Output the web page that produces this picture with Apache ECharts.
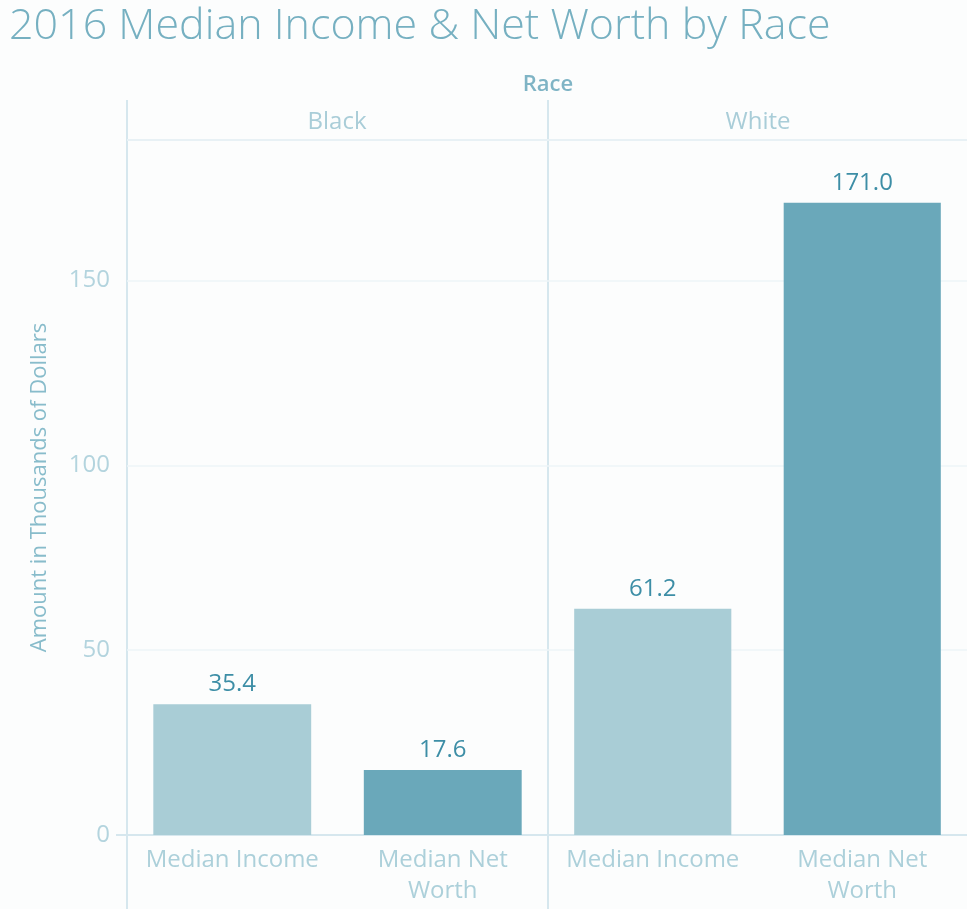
<!DOCTYPE html>
<html>
<head>
<meta charset="utf-8">
<title>2016 Median Income & Net Worth by Race</title>
<script src="https://cdn.jsdelivr.net/npm/echarts@6/dist/echarts.min.js"></script>
<style>
  html, body { margin: 0; padding: 0; background: #fcfdfd; }
  #chart { width: 967px; height: 909px; }
</style>
</head>
<body>
<div id="chart"></div>
<script>
// data
const races = ['Black', 'White'];
const measures = ['Median Income', 'Median Net Worth'];
const blackValues = [35.4, 17.6];
const whiteValues = [61.2, 171.0];
const yTicks = [0, 50, 100, 150];

const barColors = ['#a9cdd6', '#6aa8ba'];
const lineColor = '#d6e7ee';
const font = 'Open Sans';

function barData(values) {
    return values.map(function (v, i) {
        return { value: v, itemStyle: { color: barColors[i] } };
    });
}

function xAxisFor(idx) {
    return {
        type: 'category',
        gridIndex: idx,
        data: measures,
        axisLine: { show: true, lineStyle: { color: lineColor, width: 2 } },
        axisTick: { show: false },
        axisLabel: {
            interval: 0,
            color: '#acd0da',
            fontSize: 24,
            fontFamily: font,
            margin: 10,
            lineHeight: 31,
            formatter: function (v) { return v.replace('Net Worth', 'Net\nWorth'); }
        }
    };
}

function yAxisFor(idx) {
    return {
        type: 'value',
        gridIndex: idx,
        min: 0,
        max: 188,
        interval: 50,
        name: idx === 0 ? 'Amount in Thousands of Dollars' : '',
        nameLocation: 'middle',
        nameGap: 76,
        nameTextStyle: { color: '#88bccb', fontSize: 22, fontFamily: font },
        axisLine: { show: false },
        axisTick: { show: false },
        axisLabel: {
            show: idx === 0,
            color: '#b3d4de',
            fontSize: 24,
            fontFamily: font,
            margin: 17,
            showMaxLabel: false,
            formatter: function (v) { return yTicks.indexOf(v) >= 0 ? String(v) : ''; }
        },
        splitLine: { show: true, lineStyle: { color: '#eef4f7', width: 1.5 } }
    };
}

function seriesFor(idx, values) {
    return {
        type: 'bar',
        xAxisIndex: idx,
        yAxisIndex: idx,
        barWidth: '75%',
        data: barData(values),
        label: {
            show: true,
            position: 'top',
            distance: 8,
            color: '#3d8ea6',
            fontSize: 24,
            fontFamily: font,
            formatter: function (p) { return p.value.toFixed(1); }
        }
    };
}

const chart = echarts.init(document.getElementById('chart'));
chart.setOption({
    backgroundColor: '#fcfdfd',
    animation: false,
    title: {
        text: '2016 Median Income & Net Worth by Race',
        left: 4,
        top: 0,
        textStyle: { color: '#76b0c1', fontSize: 43, fontWeight: 300, fontFamily: font }
    },
    grid: [
        { left: 127, top: 140, width: 421, bottom: 74 },
        { left: 548, top: 140, right: 0, bottom: 74 }
    ],
    xAxis: [xAxisFor(0), xAxisFor(1)],
    yAxis: [yAxisFor(0), yAxisFor(1)],
    series: [seriesFor(0, blackValues), seriesFor(1, whiteValues)],
    graphic: [
        // facet frame
        { type: 'line', shape: { x1: 127, y1: 100, x2: 127, y2: 909 }, style: { stroke: lineColor, lineWidth: 2 } },
        { type: 'line', shape: { x1: 548, y1: 100, x2: 548, y2: 909 }, style: { stroke: lineColor, lineWidth: 2 } },
        { type: 'line', shape: { x1: 127, y1: 140, x2: 967, y2: 140 }, style: { stroke: lineColor, lineWidth: 2 } },
        { type: 'line', shape: { x1: 116, y1: 835, x2: 967, y2: 835 }, style: { stroke: lineColor, lineWidth: 2 } },
        // headers
        { type: 'text', x: 548, y: 85, style: { text: 'Race', fill: '#7fb4c5', fontSize: 22, fontWeight: 600, fontFamily: font, textAlign: 'center', textVerticalAlign: 'middle' } },
        { type: 'text', x: 337, y: 122, style: { text: races[0], fill: '#a9cdd8', fontSize: 24, fontFamily: font, textAlign: 'center', textVerticalAlign: 'middle' } },
        { type: 'text', x: 758, y: 122, style: { text: races[1], fill: '#a9cdd8', fontSize: 24, fontFamily: font, textAlign: 'center', textVerticalAlign: 'middle' } }
    ]
});

window.addEventListener('resize', function () {
    chart.resize();
});
</script>
</body>
</html>
